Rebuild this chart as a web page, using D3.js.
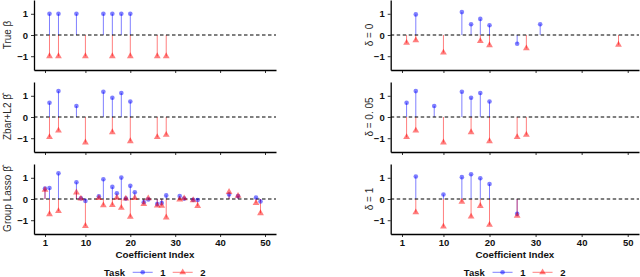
<!DOCTYPE html>
<html lang="en">
<head>
  <meta charset="UTF-8">
  <title>Coefficient estimates</title>
  <style>
    body { margin: 0; background: #fff; }
    svg { display: block; font-family: "Liberation Sans", Arial, sans-serif; }
  </style>
</head>
<body>
  <svg id="chart" width="640" height="277"></svg>

  <script src="https://d3js.org/d3.v7.min.js"></script>
  <script>
    // tick labels / titles
    const xTicks = [1, 10, 20, 30, 40, 50];
    const yTicks = [-1, 0, 1];
    const taskNames = ["1", "2"];
    const leftTitles = ["True β", "Zbar+L2 β\u0302", "Group Lasso β\u0302"];
    const rightTitles = ["δ = 0", "δ = 0. 05", "δ = 1"];

    // [coefficient index, value]
    const trueTask1 = [[2, 1], [4, 1], [8, 1], [14, 1], [16, 1], [18, 1], [20, 1]];
    const trueTask2 = [[2, -1], [4, -1], [10, -1], [16, -1], [20, -1], [26, -1], [28, -1]];

    const zbarTask1 = [[2, 0.67], [4, 1.22], [8, 0.52], [14, 1.19], [16, 0.91], [18, 1.13], [20, 0.73]];
    const zbarTask2 = [[2, -0.95], [4, -0.64], [10, -1.2], [16, -0.72], [20, -1.14], [26, -0.95], [28, -0.84]];

    const glassoTask1 = [[1, 0.49], [2, 0.52], [4, 1.21], [8, 0.79], [9, 0.03], [10, -0.09], [13, 0.13],
      [14, 0.93], [16, 0.57], [17, 0.27], [18, 1.01], [19, 0.02], [20, 0.62], [21, 0.32], [23, -0.15],
      [24, -0.02], [26, -0.24], [27, -0.19], [28, 0.17], [31, 0.14], [32, 0.02], [34, -0.04], [35, -0.05],
      [42, 0.21], [44, 0.14], [48, 0.07], [49, -0.12]];
    const glassoTask2 = [[1, 0.43], [2, -0.72], [4, -0.57], [8, 0.31], [9, 0.02], [10, -1.27], [13, 0.04],
      [14, -0.3], [16, -0.29], [17, 0.06], [18, -0.42], [19, 0.02], [20, -0.84], [21, 0.05], [23, -0.24],
      [24, 0.03], [26, -0.31], [27, -0.32], [28, -0.87], [31, -0.03], [32, 0.03], [34, -0.06], [35, -0.33],
      [42, 0.33], [44, 0.15], [48, -0.19], [49, -0.67]];

    const delta0Task1 = [[4, 0.97], [14, 1.08], [16, 0.51], [18, 0.76], [20, 0.46], [26, -0.41], [31, 0.51]];
    const delta0Task2 = [[2, -0.37], [4, -0.25], [10, -0.83], [18, -0.29], [20, -0.48], [28, -0.63], [48, -0.46]];

    const delta005Task1 = [[2, 0.67], [4, 1.22], [8, 0.52], [14, 1.19], [16, 0.91], [18, 1.13], [20, 0.73]];
    const delta005Task2 = [[2, -0.95], [4, -0.64], [10, -1.2], [16, -0.72], [20, -1.14], [26, -0.95], [28, -0.84]];

    const delta1Task1 = [[4, 1.06], [10, 0.21], [14, 1.03], [16, 1.17], [18, 0.98], [20, 0.71], [26, -0.7]];
    const delta1Task2 = [[4, -0.63], [10, -1.3], [14, -0.13], [16, -0.83], [18, -0.33], [20, -1.22], [26, -0.79]];

    const svg = d3.select("#chart");
    const taskColors = ["#0000ff", "#ff0000"];
    const alpha = 0.5;
    const rowTops = [0, 82, 164];
    const rowH = 70;

    const columns = [
      { x0: 34, x1: 276, titleX: 10.5, titles: leftTitles,
        series: [[trueTask1, trueTask2], [zbarTask1, zbarTask2], [glassoTask1, glassoTask2]] },
      { x0: 390.7, x1: 639, titleX: 372.5, titles: rightTitles,
        series: [[delta0Task1, delta0Task2], [delta005Task1, delta005Task2], [delta1Task1, delta1Task2]] }
    ];

    const triangle = d3.symbol().type(d3.symbolTriangle).size(20);

    function drawPoint(g, task, cx, cy) {
      if (task === 0) {
        g.append("circle").attr("cx", cx).attr("cy", cy).attr("r", 2.3)
          .attr("fill", taskColors[0]).attr("fill-opacity", alpha);
      } else {
        g.append("path").attr("d", triangle).attr("transform", `translate(${cx},${cy})`)
          .attr("fill", taskColors[1]).attr("fill-opacity", alpha);
      }
    }

    columns.forEach(col => {
      const x = d3.scaleLinear().domain([-1.45, 52.45]).range([col.x0, col.x1]);

      col.series.forEach((pair, r) => {
        const top = rowTops[r];
        const y = d3.scaleLinear().domain([-1.65, 1.65]).range([top + rowH, top]);
        const g = svg.append("g");

        // stems
        pair.forEach((pts, task) => {
          g.selectAll(null).data(pts).enter().append("line")
            .attr("x1", d => x(d[0])).attr("x2", d => x(d[0]))
            .attr("y1", y(0)).attr("y2", d => y(d[1]))
            .attr("stroke", taskColors[task]).attr("stroke-opacity", alpha)
            .attr("stroke-width", 1);
        });

        // zero line
        g.append("line")
          .attr("x1", col.x0).attr("x2", col.x1)
          .attr("y1", y(0)).attr("y2", y(0))
          .attr("stroke", "#000").attr("stroke-width", 1.1)
          .attr("stroke-dasharray", "3.5,2.5");

        pair.forEach((pts, task) => {
          pts.forEach(d => drawPoint(g, task, x(d[0]), y(d[1])));
        });

        // axes
        const yAxis = svg.append("g").attr("transform", `translate(${col.x0},0)`)
          .call(d3.axisLeft(y).tickValues(yTicks).tickFormat(d3.format("d"))
            .tickSize(3).tickPadding(3).tickSizeOuter(0));
        const xAxis = svg.append("g").attr("transform", `translate(0,${top + rowH})`)
          .call(d3.axisBottom(x).tickValues(xTicks).tickFormat(d3.format("d"))
            .tickSize(3).tickPadding(2).tickSizeOuter(0));

        [yAxis, xAxis].forEach(a => {
          a.select(".domain").attr("stroke", "#000").attr("stroke-width", 1.3);
          a.selectAll(".tick line").attr("stroke", "#000").attr("stroke-width", 0.8);
          a.selectAll("text").attr("fill", "#111").style("font-size", "9.5px")
            .style("font-weight", "bold")
            .style("font-family", "'Liberation Sans', Arial, sans-serif");
        });
        if (r < 2) xAxis.selectAll("text").remove();

        // row title
        svg.append("text")
          .attr("transform", `translate(${col.titleX},${top + rowH / 2}) rotate(-90)`)
          .attr("text-anchor", "middle")
          .attr("fill", "#2a2a2a")
          .style("font-size", "10px")
          .text(col.titles[r]);
      });

      const cx = (col.x0 + col.x1) / 2;

      svg.append("text")
        .attr("x", cx).attr("y", 258)
        .attr("text-anchor", "middle")
        .attr("fill", "#111")
        .style("font-size", "9.8px")
        .style("font-weight", "bold")
        .text("Coefficient Index");

      // legend
      const leg = svg.append("g").style("font-size", "9.5px").style("font-weight", "bold");
      leg.append("text").attr("x", cx - 51).attr("y", 275.5)
        .attr("fill", "#111").text("Task");
      taskNames.forEach((name, i) => {
        const lx = cx - 22.3 + i * 40;
        leg.append("line").attr("x1", lx).attr("x2", lx + 20)
          .attr("y1", 272.3).attr("y2", 272.3)
          .attr("stroke", taskColors[i]).attr("stroke-opacity", alpha);
        drawPoint(leg, i, lx + 10, 272.3);
        leg.append("text").attr("x", lx + 30.3).attr("y", 275.5)
          .attr("text-anchor", "middle")
          .attr("fill", "#111").text(name);
      });
    });
  </script>
</body>
</html>
